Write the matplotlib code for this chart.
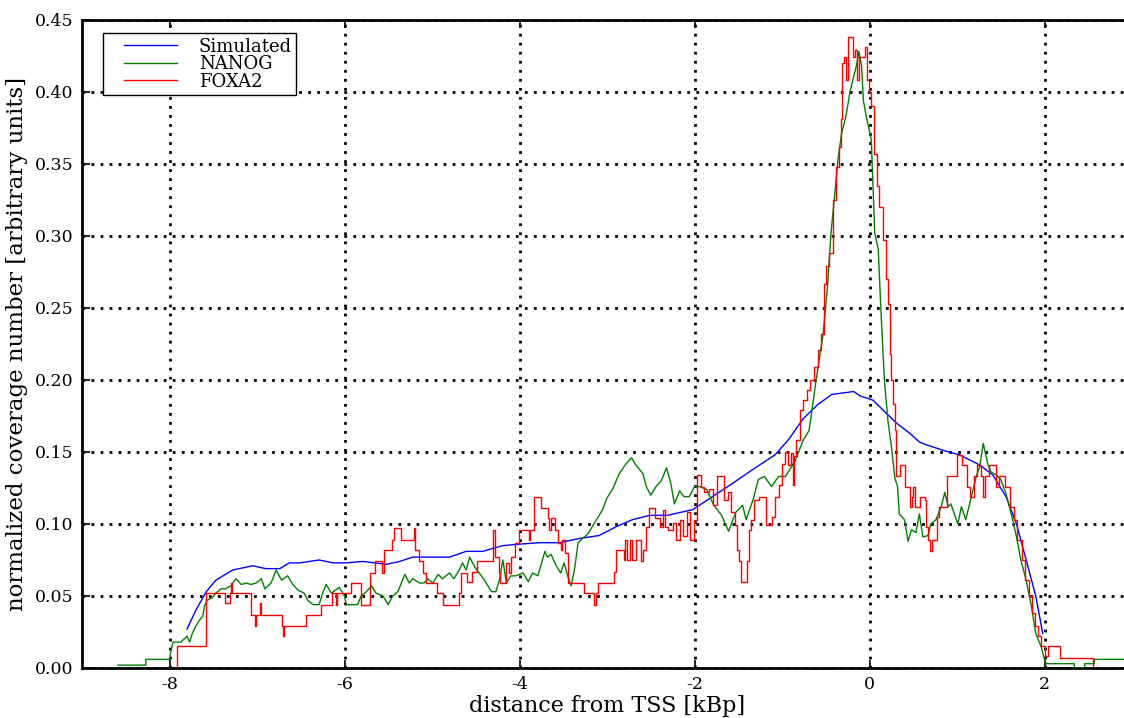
import matplotlib
matplotlib.use("Agg")
import matplotlib.pyplot as plt
from matplotlib.legend_handler import HandlerLine2D
import numpy as np

plt.rcParams['font.family'] = ['DejaVu Serif']
plt.rcParams['lines.scale_dashes'] = False
plt.rcParams['axes.unicode_minus'] = False

# ---- data (kbp from TSS, normalized coverage) ----
simulated = [(-7.80, 0.027), (-7.70, 0.040), (-7.58, 0.053), (-7.47, 0.061), (-7.28, 0.068),
             (-7.05, 0.071), (-6.90, 0.069), (-6.74, 0.069), (-6.63, 0.073), (-6.51, 0.073),
             (-6.29, 0.075), (-6.13, 0.073), (-5.98, 0.073), (-5.79, 0.074), (-5.52, 0.072),
             (-5.37, 0.074), (-5.22, 0.077), (-4.99, 0.077), (-4.80, 0.077), (-4.61, 0.081),
             (-4.42, 0.081), (-4.19, 0.085), (-4.00, 0.086), (-3.77, 0.087), (-3.54, 0.087),
             (-3.31, 0.090), (-3.09, 0.092), (-2.90, 0.098), (-2.71, 0.103), (-2.51, 0.106),
             (-2.31, 0.106), (-2.02, 0.110), (-1.82, 0.118), (-1.57, 0.128), (-1.33, 0.138),
             (-1.08, 0.148), (-0.92, 0.159), (-0.76, 0.173), (-0.59, 0.183), (-0.43, 0.190),
             (-0.18, 0.192), (-0.11, 0.189), (0.04, 0.186), (0.19, 0.177), (0.31, 0.170),
             (0.46, 0.163), (0.57, 0.157), (0.65, 0.155), (0.85, 0.151), (1.03, 0.148),
             (1.26, 0.141), (1.41, 0.134), (1.56, 0.119), (1.68, 0.100), (1.79, 0.075),
             (1.90, 0.050), (1.98, 0.024)]

nanog = [(-8.59, 0.002), (-8.27, 0.002), (-8.27, 0.006), (-8.00, 0.006), (-7.99, 0.010),
         (-7.96, 0.018), (-7.87, 0.018), (-7.80, 0.022), (-7.77, 0.018), (-7.74, 0.024),
         (-7.70, 0.029), (-7.66, 0.033), (-7.62, 0.036), (-7.60, 0.043), (-7.57, 0.047),
         (-7.51, 0.049), (-7.47, 0.052), (-7.41, 0.055), (-7.36, 0.055), (-7.30, 0.057),
         (-7.24, 0.062), (-7.18, 0.058), (-7.12, 0.059), (-7.07, 0.058), (-7.01, 0.059),
         (-6.95, 0.062), (-6.91, 0.055), (-6.84, 0.059), (-6.78, 0.068), (-6.72, 0.061),
         (-6.65, 0.064), (-6.59, 0.058), (-6.53, 0.054), (-6.46, 0.052), (-6.42, 0.047),
         (-6.36, 0.044), (-6.29, 0.044), (-6.25, 0.052), (-6.21, 0.058), (-6.15, 0.052),
         (-6.06, 0.056), (-6.00, 0.050), (-5.98, 0.044), (-5.85, 0.044), (-5.81, 0.050),
         (-5.75, 0.053), (-5.69, 0.057), (-5.64, 0.052), (-5.56, 0.050), (-5.50, 0.044),
         (-5.45, 0.050), (-5.39, 0.053), (-5.31, 0.065), (-5.26, 0.059), (-5.22, 0.062),
         (-5.14, 0.059), (-5.09, 0.059), (-5.05, 0.062), (-4.99, 0.059), (-4.93, 0.065),
         (-4.88, 0.062), (-4.80, 0.066), (-4.75, 0.062), (-4.69, 0.068), (-4.65, 0.073),
         (-4.61, 0.068), (-4.57, 0.077), (-4.51, 0.070), (-4.46, 0.066), (-4.40, 0.061),
         (-4.32, 0.053), (-4.27, 0.053), (-4.23, 0.061), (-4.19, 0.075), (-4.15, 0.059),
         (-4.10, 0.064), (-4.04, 0.064), (-3.96, 0.066), (-3.90, 0.060), (-3.85, 0.066),
         (-3.79, 0.064), (-3.71, 0.081), (-3.68, 0.077), (-3.64, 0.079), (-3.58, 0.071),
         (-3.53, 0.066), (-3.49, 0.073), (-3.45, 0.064), (-3.41, 0.057), (-3.37, 0.069),
         (-3.33, 0.087), (-3.28, 0.090), (-3.22, 0.093), (-3.16, 0.099), (-3.11, 0.104),
         (-3.05, 0.110), (-3.00, 0.118), (-2.93, 0.125), (-2.86, 0.135), (-2.78, 0.142),
         (-2.72, 0.146), (-2.67, 0.141), (-2.59, 0.135), (-2.55, 0.126), (-2.50, 0.120),
         (-2.44, 0.126), (-2.38, 0.130), (-2.32, 0.139), (-2.27, 0.128), (-2.23, 0.114),
         (-2.17, 0.123), (-2.12, 0.119), (-2.06, 0.119), (-2.00, 0.126), (-1.94, 0.126),
         (-1.86, 0.124), (-1.78, 0.113), (-1.69, 0.106), (-1.61, 0.095), (-1.53, 0.108),
         (-1.45, 0.113), (-1.41, 0.103), (-1.33, 0.117), (-1.27, 0.131), (-1.20, 0.133),
         (-1.12, 0.126), (-1.04, 0.133), (-0.96, 0.133), (-0.84, 0.145), (-0.76, 0.158),
         (-0.69, 0.165), (-0.61, 0.200), (-0.53, 0.232), (-0.48, 0.265), (-0.44, 0.302),
         (-0.40, 0.327), (-0.36, 0.353), (-0.32, 0.371), (-0.27, 0.383), (-0.22, 0.401),
         (-0.18, 0.411), (-0.15, 0.418), (-0.12, 0.428), (-0.09, 0.418), (-0.07, 0.394),
         (-0.03, 0.381), (0.02, 0.367), (0.06, 0.302), (0.10, 0.291), (0.13, 0.249),
         (0.17, 0.200), (0.21, 0.172), (0.25, 0.154), (0.29, 0.132), (0.32, 0.126),
         (0.34, 0.107), (0.40, 0.103), (0.44, 0.088), (0.48, 0.096), (0.53, 0.094),
         (0.57, 0.107), (0.61, 0.091), (0.67, 0.092), (0.70, 0.100), (0.76, 0.103),
         (0.82, 0.112), (0.86, 0.122), (0.90, 0.112), (0.93, 0.114), (1.01, 0.100),
         (1.05, 0.112), (1.10, 0.103), (1.16, 0.118), (1.22, 0.133), (1.26, 0.140),
         (1.30, 0.156), (1.35, 0.142), (1.39, 0.136), (1.45, 0.134), (1.50, 0.131),
         (1.56, 0.121), (1.62, 0.107), (1.68, 0.091), (1.73, 0.075), (1.79, 0.061),
         (1.85, 0.043), (1.90, 0.024), (1.96, 0.015), (2.00, 0.006), (2.02, 0.003),
         (2.34, 0.003), (2.34, 0.000), (2.46, 0.000), (2.46, 0.003), (2.57, 0.003),
         (2.57, 0.006), (2.95, 0.006)]

# FOXA2 as step levels: (start of step, level)
foxa2 = [(-7.93, 0.000), (-7.92, 0.015), (-7.58, 0.052), (-7.37, 0.045), (-7.31, 0.052),
         (-7.30, 0.059), (-7.29, 0.052), (-7.07, 0.037), (-7.02, 0.029), (-7.01, 0.037),
         (-6.97, 0.045), (-6.96, 0.037), (-6.72, 0.029), (-6.70, 0.022), (-6.69, 0.029),
         (-6.44, 0.037), (-6.27, 0.044), (-6.14, 0.052), (-6.10, 0.044), (-6.09, 0.052),
         (-5.93, 0.059), (-5.81, 0.044), (-5.71, 0.066), (-5.65, 0.074), (-5.57, 0.066),
         (-5.55, 0.082), (-5.46, 0.089), (-5.43, 0.097), (-5.36, 0.089), (-5.21, 0.097),
         (-5.20, 0.082), (-5.15, 0.074), (-5.10, 0.066), (-5.07, 0.059), (-4.94, 0.052),
         (-4.87, 0.044), (-4.69, 0.052), (-4.67, 0.066), (-4.60, 0.060), (-4.54, 0.067),
         (-4.48, 0.074), (-4.30, 0.096), (-4.28, 0.077), (-4.24, 0.066), (-4.22, 0.059),
         (-4.16, 0.073), (-4.12, 0.066), (-4.10, 0.077), (-4.05, 0.087), (-4.01, 0.096),
         (-3.89, 0.089), (-3.88, 0.096), (-3.84, 0.119), (-3.76, 0.111), (-3.68, 0.104),
         (-3.66, 0.096), (-3.64, 0.104), (-3.60, 0.096), (-3.56, 0.087), (-3.53, 0.082),
         (-3.51, 0.089), (-3.48, 0.080), (-3.45, 0.059), (-3.26, 0.052), (-3.15, 0.044),
         (-3.13, 0.052), (-3.10, 0.059), (-2.92, 0.067), (-2.90, 0.082), (-2.81, 0.075),
         (-2.79, 0.089), (-2.77, 0.075), (-2.74, 0.089), (-2.71, 0.075), (-2.67, 0.089),
         (-2.61, 0.074), (-2.59, 0.082), (-2.56, 0.098), (-2.52, 0.111), (-2.45, 0.104),
         (-2.40, 0.098), (-2.36, 0.110), (-2.34, 0.098), (-2.30, 0.096), (-2.25, 0.101),
         (-2.21, 0.089), (-2.17, 0.103), (-2.13, 0.092), (-2.09, 0.108), (-2.05, 0.089),
         (-2.01, 0.103), (-1.97, 0.134), (-1.93, 0.126), (-1.89, 0.122), (-1.84, 0.124),
         (-1.79, 0.113), (-1.74, 0.133), (-1.66, 0.117), (-1.62, 0.122), (-1.58, 0.108),
         (-1.54, 0.099), (-1.51, 0.082), (-1.49, 0.074), (-1.47, 0.060), (-1.40, 0.074),
         (-1.38, 0.096), (-1.35, 0.103), (-1.32, 0.117), (-1.26, 0.119), (-1.18, 0.099),
         (-1.11, 0.105), (-1.08, 0.119), (-1.04, 0.127), (-1.00, 0.142), (-0.97, 0.150),
         (-0.93, 0.141), (-0.90, 0.149), (-0.88, 0.127), (-0.86, 0.147), (-0.84, 0.158),
         (-0.80, 0.179), (-0.76, 0.186), (-0.72, 0.193), (-0.68, 0.200), (-0.63, 0.209),
         (-0.59, 0.221), (-0.55, 0.232), (-0.52, 0.267), (-0.50, 0.279), (-0.46, 0.288),
         (-0.42, 0.325), (-0.38, 0.348), (-0.35, 0.362), (-0.33, 0.381), (-0.31, 0.420),
         (-0.29, 0.424), (-0.27, 0.408), (-0.25, 0.438), (-0.21, 0.438), (-0.19, 0.424),
         (-0.17, 0.429), (-0.14, 0.408), (-0.12, 0.424), (-0.07, 0.424), (-0.05, 0.431),
         (-0.03, 0.408), (-0.01, 0.400), (0.02, 0.390), (0.05, 0.357), (0.08, 0.335),
         (0.11, 0.320), (0.15, 0.297), (0.19, 0.270), (0.21, 0.253), (0.23, 0.218),
         (0.25, 0.200), (0.27, 0.183), (0.29, 0.165), (0.30, 0.133), (0.35, 0.141),
         (0.41, 0.126), (0.46, 0.112), (0.48, 0.119), (0.50, 0.126), (0.52, 0.112),
         (0.58, 0.119), (0.63, 0.117), (0.65, 0.098), (0.67, 0.089), (0.69, 0.081),
         (0.71, 0.089), (0.77, 0.105), (0.79, 0.112), (0.89, 0.133), (1.00, 0.148),
         (1.06, 0.141), (1.11, 0.126), (1.15, 0.119), (1.19, 0.133), (1.23, 0.141),
         (1.27, 0.133), (1.30, 0.119), (1.32, 0.133), (1.36, 0.141), (1.44, 0.126),
         (1.48, 0.133), (1.55, 0.126), (1.60, 0.112), (1.65, 0.103), (1.69, 0.089),
         (1.74, 0.075), (1.78, 0.061), (1.82, 0.050), (1.86, 0.038), (1.89, 0.029),
         (1.93, 0.022), (1.96, 0.015), (2.01, 0.008), (2.04, 0.015), (2.18, 0.007),
         (2.55, 0.000), (2.56, 0.000)]

x_ticks = [-8, -6, -4, -2, 0, 2]
y_ticks = [0.00, 0.05, 0.10, 0.15, 0.20, 0.25, 0.30, 0.35, 0.40, 0.45]

W, H = 1124, 718
fig = plt.figure(figsize=(W / 100, H / 100), dpi=100)
AXW, AXH = 1050, 648
ax = fig.add_axes([82 / W, 50 / H, AXW / W, AXH / H])

sx, sy = zip(*simulated)
nx, ny = zip(*nanog)
fx, fy = zip(*foxa2)

l1, = ax.plot(sx, sy, color='#0000ff', lw=1.0, label='Simulated', zorder=3)
l2, = ax.plot(nx, ny, color='#008000', lw=1.0, label='NANOG', zorder=3)
l3, = ax.plot(fx, fy, color='#ff0000', lw=1.0, drawstyle='steps-post', label='FOXA2', zorder=3)

ax.set_xlim(-9, 3)
ax.set_ylim(0, 0.45)
ax.set_xticks(x_ticks)
ax.set_yticks(y_ticks)
ax.set_xticklabels([str(t) for t in x_ticks])
ax.set_yticklabels(['%.2f' % t for t in y_ticks])

ax.grid(True, color='black', linestyle=(0, (2.0, 4.5)), linewidth=2.0)
ax.set_axisbelow(True)

for s in ax.spines.values():
    s.set_linewidth(2.0)
ax.tick_params(direction='in', length=6, width=1.2, labelsize=12.5, top=True, right=True, pad=6)

ax.set_xlabel('distance from TSS [kBp]', fontsize=16, labelpad=1)
ax.set_ylabel('normalized coverage number [arbitrary units]', fontsize=16.5, labelpad=5)

hmap = {l: HandlerLine2D(xpad=0.9) for l in (l1, l2, l3)}
leg = ax.legend(handles=[l1, l2, l3], handler_map=hmap,
                loc='upper left', bbox_to_anchor=(21 / AXW, 1 - 13 / AXH), borderaxespad=0,
                fontsize=13, frameon=True, fancybox=False, framealpha=1.0, edgecolor='black',
                handlelength=3.85, handletextpad=1.2, borderpad=0.25, labelspacing=-0.02)
leg.get_frame().set_linewidth(1.0)

fig.savefig('out.png', dpi=100)
